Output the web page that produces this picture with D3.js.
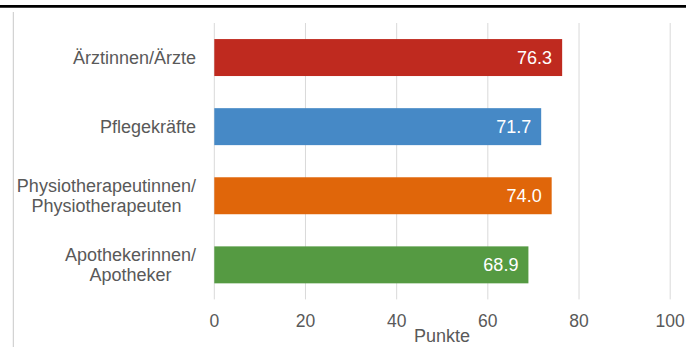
<!DOCTYPE html>
<html>
<head>
<meta charset="utf-8">
<script src="https://cdn.jsdelivr.net/npm/d3@7"></script>
<style>
  body { margin: 0; background: #fff; }
  text { font-family: "Liberation Sans", Arial, sans-serif; }
</style>
</head>
<body>
<div id="chart"></div>
<script>
(function () {

  // data
  const categories = ['Ärztinnen/Ärzte', 'Pflegekräfte', 'Physiotherapeutinnen/\nPhysiotherapeuten', 'Apothekerinnen/\nApotheker']
  const values = [76.3, 71.7, 74.0, 68.9]
  const colors = ['#bf2a1f', '#4689c6', '#e0660a', '#559a42']
  const ticks = [0, 20, 40, 60, 80, 100]
  const axisTitle = 'Punkte'

  const width = 686
  const height = 347

  const svg = d3.select('#chart').append('svg')
      .attr('width', width)
      .attr('height', height)

  // frame: thick rule at the top, thin line on the left
  svg.append('line')
    .attr('x1', 0).attr('x2', width)
    .attr('y1', 6.3).attr('y2', 6.3)
    .attr('stroke', '#000')
    .attr('stroke-width', 2.7)

  svg.append('line')
    .attr('x1', 13.3).attr('x2', 13.3)
    .attr('y1', 12).attr('y2', height)
    .attr('stroke', '#c8c8c8')
    .attr('stroke-width', 1)

  const xPositionScale = d3.scaleLinear()
    .domain([0, 100])
    .range([214.3, 670.2])

  const yPositionScale = d3.scaleBand()
    .domain(categories)
    .range([23, 299.4])
    .paddingInner(0.465)
    .paddingOuter(0.2325)

  // gridlines
  svg.selectAll('.grid')
    .data(ticks)
    .join('line')
    .attr('class', 'grid')
    .attr('x1', d => xPositionScale(d))
    .attr('x2', d => xPositionScale(d))
    .attr('y1', 23)
    .attr('y2', 299.4)
    .attr('stroke', '#d9d9d9')
    .attr('stroke-width', 1)

  const rows = categories.map((c, i) => ({ cat: c, value: values[i], color: colors[i] }))

  svg.selectAll('rect')
    .data(rows)
    .join('rect')
    .attr('x', xPositionScale(0))
    .attr('y', d => yPositionScale(d.cat))
    .attr('width', d => xPositionScale(d.value) - xPositionScale(0))
    .attr('height', yPositionScale.bandwidth())
    .attr('fill', d => d.color)

  svg.selectAll('.value')
    .data(rows)
    .join('text')
    .attr('class', 'value')
    .attr('x', d => xPositionScale(d.value) - 10)
    .attr('y', d => yPositionScale(d.cat) + yPositionScale.bandwidth() / 2 + 6.6)
    .attr('text-anchor', 'end')
    .attr('fill', '#fff')
    .style('font-size', '18px')
    .text(d => d.value.toFixed(1))

  // category labels: block right-aligned, lines centred inside the block
  const labelRight = 196
  rows.forEach(d => {
    const lines = d.cat.split('\n')
    const g = svg.append('g')
    const cy = yPositionScale(d.cat) + yPositionScale.bandwidth() / 2
    const texts = lines.map((line, j) => g.append('text')
      .attr('y', cy + 6.5 + (j - (lines.length - 1) / 2) * 20)
      .attr('text-anchor', 'middle')
      .attr('fill', '#595959')
      .style('font-size', '18px')
      .text(line))
    const maxW = d3.max(texts, t => t.node().getComputedTextLength())
    texts.forEach(t => t.attr('x', labelRight - maxW / 2))
  })

  // x axis labels
  svg.selectAll('.tick-label')
    .data(ticks)
    .join('text')
    .attr('class', 'tick-label')
    .attr('x', d => xPositionScale(d))
    .attr('y', 327.3)
    .attr('text-anchor', 'middle')
    .attr('fill', '#595959')
    .style('font-size', '17.5px')
    .text(d => d)

  svg.append('text')
    .attr('x', 442)
    .attr('y', 342.3)
    .attr('text-anchor', 'middle')
    .attr('fill', '#595959')
    .style('font-size', '18px')
    .text(axisTitle)

})();
</script>
</body>
</html>
